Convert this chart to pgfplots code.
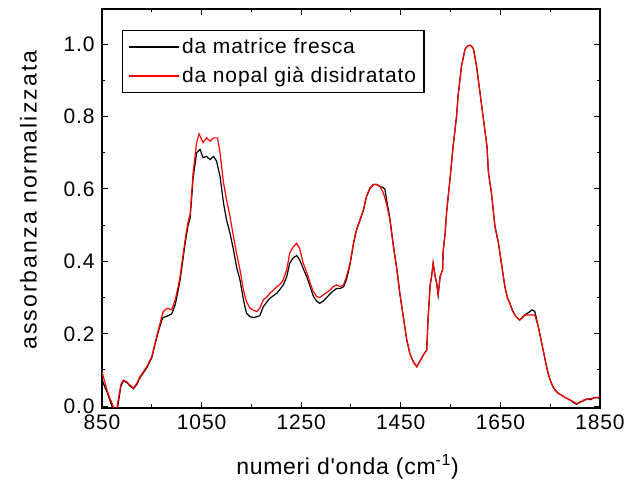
\documentclass[border=0pt]{standalone}
\usepackage{pgfplots}
\pgfplotsset{compat=1.18}
\usepackage{fontspec}
\setmainfont{Liberation Sans}
\newfontfamily\tickfont[LetterSpace=4]{Liberation Sans}
\newfontfamily\legfont[LetterSpace=4]{Liberation Sans}
\newfontfamily\xlabfont[LetterSpace=3]{Liberation Sans}
\newfontfamily\ylabfont[LetterSpace=9]{Liberation Sans}
\begin{document}
\begin{tikzpicture}
\begin{axis}[
  scale only axis, width=498pt, height=399pt,
  xmin=850, xmax=1850, ymin=-0.005, ymax=1.097,
  xtick={850,1050,1250,1450,1650,1850},
  minor xtick={950,1150,1350,1550,1750},
  ytick={0,0.2,0.4,0.6,0.8,1.0},
  minor ytick={0.1,0.3,0.5,0.7,0.9},
  /pgf/number format/assume math mode=true,
  xticklabel style={/pgf/number format/set thousands separator={}, font=\tickfont\fontsize{21}{25}\selectfont, yshift=-3pt},
  yticklabel style={/pgf/number format/fixed, /pgf/number format/fixed zerofill, /pgf/number format/precision=1, font=\tickfont\fontsize{21}{25}\selectfont, xshift=-4pt},
  tick align=inside, major tick length=6pt, minor tick length=3.5pt,
  axis line style={line width=1.2pt},
  every tick/.style={black, line width=1pt},
  every axis x label/.style={at={(axis description cs:0.493,-0.148)}, anchor=center, font=\xlabfont\fontsize{23}{27}\selectfont},
  every axis y label/.style={at={(axis description cs:-0.1476,0.521)}, rotate=90, anchor=center, font=\ylabfont\fontsize{23}{27}\selectfont},
  xlabel={numeri d'onda (cm\textsuperscript{-1})},
  ylabel={assorbanza normalizzata},
  legend cell align=left,
  legend image code/.code={\draw[#1, line width=1.5pt] (0pt,0pt) -- (50pt,0pt);},
  legend style={at={(axis description cs:0.0402,0.9474)}, anchor=north west, draw=black, line width=1.2pt, font=\legfont\fontsize{21}{25}\selectfont, row sep=8pt, inner xsep=6pt, inner ysep=6pt},
]
\coordinate (sw) at (rel axis cs:0,0);
\addplot[black, line width=1.2pt] coordinates {
(850,0.075)(855,0.055)(860,0.04)(865,0.02)(870,0.0)(875,-0.02)(880,-0.015)(884,0.02)(888,0.055)(893,0.07)(900,0.065)(906,0.056)(913,0.048)(920,0.06)(926,0.078)(933,0.092)(940,0.106)(950,0.134)(956,0.168)(963,0.205)(970,0.238)(973,0.245)(978,0.247)(983,0.25)(990,0.255)(997,0.28)(1003,0.32)(1007,0.35)(1013,0.41)(1018,0.46)(1023,0.50)(1027,0.52)(1033,0.63)(1040,0.70)(1047,0.709)(1053,0.686)(1060,0.69)(1067,0.681)(1074,0.69)(1080,0.677)(1087,0.635)(1094,0.561)(1100,0.515)(1107,0.478)(1114,0.432)(1120,0.386)(1127,0.349)(1134,0.294)(1140,0.257)(1147,0.247)(1154,0.245)(1161,0.247)(1167,0.25)(1174,0.275)(1180,0.286)(1187,0.298)(1194,0.305)(1201,0.312)(1207,0.322)(1214,0.335)(1221,0.358)(1227,0.395)(1234,0.41)(1241,0.416)(1247,0.404)(1254,0.38)(1261,0.358)(1268,0.33)(1274,0.305)(1281,0.29)(1287,0.284)(1294,0.29)(1301,0.30)(1308,0.31)(1314,0.318)(1321,0.325)(1328,0.325)(1335,0.33)(1341,0.35)(1348,0.39)(1355,0.448)(1361,0.486)(1368,0.513)(1375,0.541)(1381,0.578)(1388,0.601)(1395,0.612)(1402,0.612)(1408,0.607)(1415,0.603)(1418,0.600)(1422,0.565)(1428,0.52)(1435,0.445)(1442,0.38)(1448,0.312)(1455,0.247)(1462,0.183)(1468,0.146)(1475,0.123)(1482,0.109)(1488,0.123)(1495,0.141)(1502,0.155)(1505,0.247)(1509,0.335)(1512,0.36)(1515,0.395)(1519,0.358)(1522,0.34)(1525,0.307)(1529,0.358)(1534,0.377)(1535,0.427)(1539,0.478)(1542,0.536)(1549,0.63)(1555,0.718)(1562,0.801)(1565,0.857)(1572,0.94)(1579,0.986)(1584,0.995)(1589,0.997)(1593,0.993)(1596,0.986)(1602,0.94)(1609,0.866)(1616,0.792)(1623,0.718)(1626,0.645)(1632,0.589)(1639,0.497)(1646,0.451)(1653,0.386)(1659,0.33)(1664,0.30)(1669,0.284)(1674,0.265)(1679,0.252)(1684,0.243)(1689,0.238)(1694,0.245)(1699,0.252)(1706,0.258)(1713,0.266)(1719,0.262)(1726,0.22)(1733,0.174)(1740,0.127)(1745,0.095)(1750,0.072)(1755,0.055)(1760,0.044)(1766,0.036)(1773,0.03)(1780,0.024)(1790,0.017)(1797,0.010)(1803,0.005)(1810,0.012)(1817,0.015)(1823,0.02)(1830,0.018)(1840,0.024)(1850,0.022)
};
\addlegendentry{da matrice fresca}
\addplot[red, line width=1.2pt] coordinates {
(850,0.095)(855,0.07)(860,0.045)(865,0.025)(870,0.008)(875,-0.01)(880,-0.005)(884,0.03)(888,0.06)(893,0.072)(900,0.067)(906,0.058)(913,0.050)(920,0.063)(926,0.081)(933,0.095)(940,0.109)(950,0.137)(956,0.172)(963,0.21)(970,0.247)(973,0.261)(978,0.268)(983,0.27)(990,0.266)(997,0.294)(1003,0.33)(1007,0.36)(1013,0.42)(1018,0.47)(1023,0.51)(1027,0.53)(1033,0.645)(1040,0.728)(1045,0.752)(1049,0.74)(1053,0.728)(1060,0.741)(1067,0.732)(1074,0.741)(1082,0.741)(1087,0.70)(1094,0.617)(1100,0.571)(1107,0.524)(1114,0.469)(1120,0.423)(1127,0.377)(1134,0.321)(1140,0.289)(1147,0.271)(1154,0.265)(1161,0.261)(1167,0.271)(1174,0.294)(1180,0.300)(1187,0.312)(1194,0.320)(1201,0.33)(1207,0.336)(1214,0.349)(1221,0.377)(1227,0.423)(1234,0.44)(1241,0.450)(1247,0.435)(1254,0.395)(1261,0.37)(1268,0.34)(1274,0.318)(1281,0.303)(1287,0.300)(1294,0.307)(1301,0.314)(1308,0.321)(1314,0.33)(1321,0.335)(1328,0.33)(1335,0.335)(1341,0.358)(1348,0.395)(1355,0.451)(1361,0.488)(1368,0.515)(1375,0.543)(1381,0.58)(1388,0.603)(1395,0.612)(1402,0.612)(1408,0.607)(1415,0.589)(1422,0.555)(1428,0.515)(1435,0.441)(1442,0.377)(1448,0.312)(1455,0.247)(1462,0.183)(1468,0.146)(1475,0.123)(1482,0.109)(1488,0.123)(1495,0.141)(1502,0.155)(1505,0.247)(1509,0.335)(1512,0.36)(1515,0.395)(1519,0.358)(1522,0.34)(1525,0.307)(1529,0.358)(1534,0.377)(1535,0.427)(1539,0.478)(1542,0.536)(1549,0.63)(1555,0.718)(1562,0.801)(1565,0.857)(1572,0.94)(1579,0.986)(1584,0.995)(1589,0.997)(1593,0.993)(1596,0.986)(1602,0.94)(1609,0.866)(1616,0.792)(1623,0.718)(1626,0.645)(1632,0.589)(1639,0.497)(1646,0.451)(1653,0.386)(1659,0.33)(1664,0.30)(1669,0.284)(1674,0.265)(1679,0.252)(1684,0.243)(1689,0.238)(1694,0.245)(1699,0.252)(1706,0.252)(1713,0.252)(1719,0.252)(1726,0.22)(1733,0.174)(1740,0.127)(1745,0.095)(1750,0.072)(1755,0.055)(1760,0.044)(1766,0.036)(1773,0.03)(1780,0.024)(1790,0.017)(1797,0.012)(1803,0.007)(1810,0.01)(1817,0.017)(1823,0.018)(1830,0.021)(1840,0.023)(1850,0.026)
};
\addlegendentry{da nopal già disidratato}
\end{axis}
\pgfresetboundingbox
\path (sw) ++(-102pt,-76pt) rectangle ++(635pt,484pt);
\end{tikzpicture}
\end{document}
